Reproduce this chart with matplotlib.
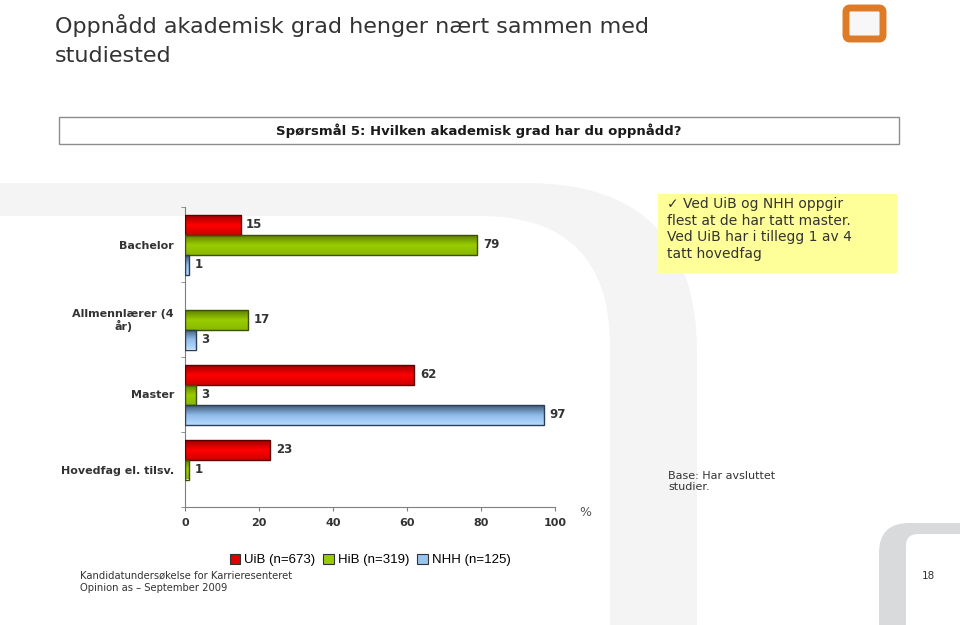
# -*- coding: utf-8 -*-
# Oppnådd akademisk grad - grouped horizontal bars (UiB / HiB / NHH)
import numpy as np
import matplotlib
matplotlib.use("Agg")
import matplotlib.pyplot as plt
from matplotlib.patches import FancyBboxPatch, Rectangle, Patch
from matplotlib.colors import LinearSegmentedColormap

# data
categories = ['Bachelor', 'Allmennlærer (4\når)', 'Master', 'Hovedfag el. tilsv.']
series_names = ['UiB (n=673)', 'HiB (n=319)', 'NHH (n=125)']
uib = [15, None, 62, 23]
hib = [79, 17, 3, 1]
nhh = [1, 3, 97, None]
xticks = [0, 20, 40, 60, 80, 100]

# colours: top, middle, bottom of each bar gradient + edge
grad = {
    'UiB': ['#a00000', '#ff0000', '#d00000'],
    'HiB': ['#5f7f00', '#9acd00', '#88b800'],
    'NHH': ['#3e5878', '#8fbbe8', '#b5dcff'],
}
edges = {'UiB': '#5a0000', 'HiB': '#3c5000', 'NHH': '#283e5a'}
legend_col = {'UiB': '#e00000', 'HiB': '#99cc00', 'NHH': '#99c4ee'}

txt = '#333333'

fig = plt.figure(figsize=(9.6, 6.25), dpi=100)

# background decoration, pixel coordinates
bg = fig.add_axes([0, 0, 1, 1], zorder=0)
bg.set_xlim(0, 960)
bg.set_ylim(625, 0)
bg.axis('off')
bg.add_patch(FancyBboxPatch((-200, 183), 897, 700, boxstyle='round,pad=0,rounding_size=170',
                            fc='#f4f4f4', ec='none'))
bg.add_patch(FancyBboxPatch((-200, 216), 810, 700, boxstyle='round,pad=0,rounding_size=130',
                            fc='white', ec='none'))
bg.add_patch(FancyBboxPatch((879, 523), 200, 200, boxstyle='round,pad=0,rounding_size=30',
                            fc='#d9dadc', ec='none'))
bg.add_patch(FancyBboxPatch((906, 534), 200, 200, boxstyle='round,pad=0,rounding_size=12',
                            fc='white', ec='none'))
# logo
bg.add_patch(FancyBboxPatch((846, 8), 37, 31, boxstyle='round,pad=0,rounding_size=4',
                            fc='#f7f7f7', ec='#df7b27', lw=5))
# question box
bg.add_patch(Rectangle((59, 117), 840, 27, fc='white', ec='#8c8c8c', lw=1))
bg.text(479, 131, 'Spørsmål 5: Hvilken akademisk grad har du oppnådd?', ha='center', va='center',
        fontsize=9.5, fontweight='bold', color='#1a1a1a')
# yellow note
bg.add_patch(Rectangle((658, 194), 239, 79, fc='#ffff99', ec='none'))
bg.text(667, 197, '\u2713 Ved UiB og NHH oppgir\nflest at de har tatt master.\nVed UiB har i tillegg 1 av 4\ntatt hovedfag',
        ha='left', va='top', fontsize=10, color=txt, linespacing=1.25)
bg.text(668, 471, 'Base: Har avsluttet\nstudier.', ha='left', va='top', fontsize=8, color=txt,
        linespacing=1.15)
bg.text(585, 513, '%', ha='center', va='center', fontsize=9, color='#555555')

# titles and footer
bg.text(55, 33, 'Oppnådd akademisk grad henger nært sammen med', ha='left', va='baseline',
        fontsize=16, color='#333333')
bg.text(55, 62, 'studiested', ha='left', va='baseline', fontsize=16, color='#333333')
bg.text(80, 576, 'Kandidatundersøkelse for Karrieresenteret', ha='left', va='center',
        fontsize=7.2, color=txt)
bg.text(80, 588, 'Opinion as \u2013 September 2009', ha='left', va='center',
        fontsize=7.2, color=txt)
bg.text(928, 576, '18', ha='center', va='center', fontsize=7.5, color=txt)

# chart
ax = fig.add_axes([185 / 960, 1 - 507 / 625, 370 / 960, 300 / 625], zorder=2)
ax.patch.set_alpha(0)

y = np.arange(len(categories))
h = 0.8 / 3
data = {'UiB': uib, 'HiB': hib, 'NHH': nhh}
handles = []
for k, (name, vals) in enumerate(data.items()):
    cmap = LinearSegmentedColormap.from_list(name, grad[name])
    idx = [i for i, v in enumerate(vals) if v is not None]
    vv = [vals[i] for i in idx]
    pos = y[idx] + (k - 1) * h
    bars = ax.barh(pos, vv, height=h, color='none', edgecolor=edges[name], lw=1, zorder=3)
    for b, v, p in zip(bars, vv, pos):
        im = ax.imshow(np.linspace(0, 1, 50).reshape(-1, 1), cmap=cmap, aspect='auto',
                       extent=(0, v, p + h / 2, p - h / 2), origin='upper', zorder=2)
        im.set_clip_path(b)
        ax.text(v + 1.5, p, str(v), ha='left', va='center', fontsize=8.5,
                fontweight='bold', color=txt, zorder=4)
    handles.append(Patch(fc=legend_col[name], ec='#333333', lw=0.8, label=series_names[k]))

ax.set_xlim(0, 100)
ax.set_ylim(len(categories) - 0.5, -0.5)
ax.set_xticks(xticks)
ax.set_xticklabels([str(t) for t in xticks], fontsize=8, fontweight='bold', color=txt)
ax.set_yticks(y)
ax.set_yticklabels(categories, fontsize=8, fontweight='bold', color=txt, linespacing=1.05,
                   multialignment='center')
ax.set_yticks(np.arange(-0.5, len(categories), 1), minor=True)
ax.tick_params(axis='y', which='major', length=0, pad=8)
ax.tick_params(axis='y', which='minor', length=3, color='#7f7f7f')
ax.tick_params(axis='x', length=3, color='#7f7f7f', pad=5)
for s in ['top', 'right']:
    ax.spines[s].set_visible(False)
for s in ['left', 'bottom']:
    ax.spines[s].set_color('#7f7f7f')

fig.legend(handles=handles, loc='center', bbox_to_anchor=(370 / 960, 1 - 560 / 625), ncol=3,
           frameon=False, handlelength=0.8, handleheight=0.8, handletextpad=0.3,
           columnspacing=0.6, prop={'family': 'Liberation Sans', 'size': 9.5})

fig.savefig('out.png', dpi=100)
